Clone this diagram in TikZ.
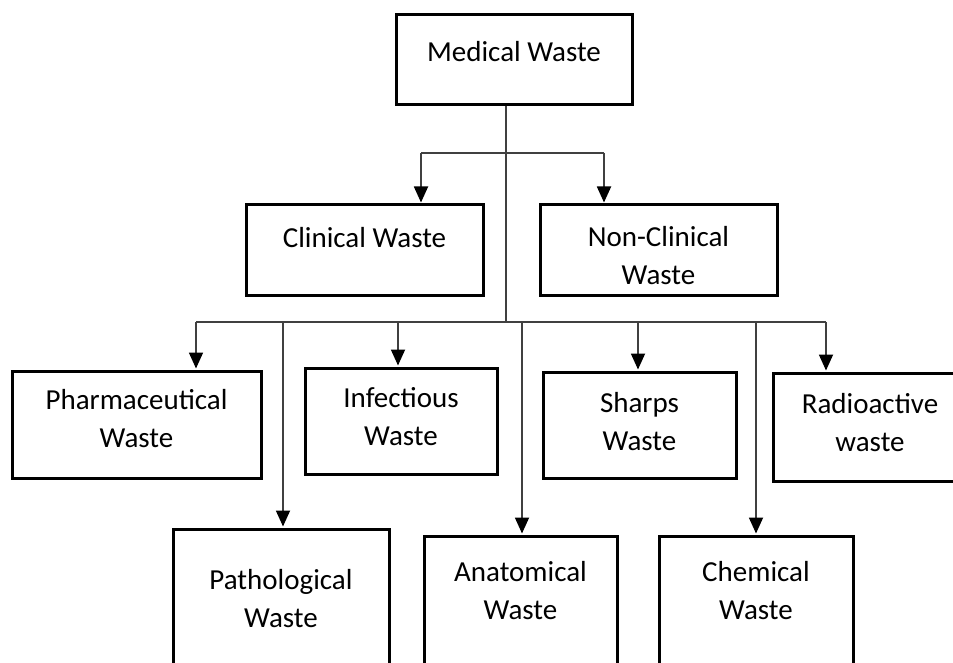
\documentclass[tikz,border=0pt]{standalone}
\usepackage{fontspec}
\setmainfont{Carlito}
\usetikzlibrary{arrows.meta}

\tikzset{
  wbox/.style={draw=black, line width=1.5pt, inner sep=0pt},
  wtxt/.style={align=center, font=\fontsize{14.5}{19}\selectfont},
  wline/.style={draw=black!75, line width=0.9pt},
  warr/.style={wline, -{Triangle[width=7pt,length=8pt,color=black]}, shorten >=0.5pt}
}

\begin{document}
\begin{tikzpicture}[x=0.5pt, y=-0.5pt]
			\useasboundingbox (0,0) rectangle (953,663);
			\clip (0,0) rectangle (953,663);
			
			%% boxes (pixel units, y downwards)
			\node[wbox, minimum width=118pt, minimum height=45pt] (med) at (514,60) {};
			
			\node[wbox, minimum width=118.5pt, minimum height=45.5pt] (cli) at (364.5,250.5) {};
			\node[wbox, minimum width=118.5pt, minimum height=45.5pt] (ncl) at (658.5,250.5) {};
			
			\node[wbox, minimum width=124.5pt, minimum height=53.5pt] (pha) at (136.5,424.5) {};
			\node[wbox, minimum width=96pt, minimum height=53pt] (inf) at (401,421) {};
			\node[wbox, minimum width=96.5pt, minimum height=53pt] (sha) at (639.5,425) {};
			\node[wbox, minimum width=97pt, minimum height=54pt] (rad) at (870,427) {};
			
			\node[wbox, minimum width=108pt, minimum height=90pt] (pat) at (281,619) {};
			\node[wbox, minimum width=96.5pt, minimum height=90pt] (ana) at (520.5,626) {};
			\node[wbox, minimum width=97pt, minimum height=90pt] (che) at (756,626) {};
			
			%% labels
			\node[wtxt] (medt) at (514,52) {Medical Waste};
			\node[wtxt] (clit) at (364.5,238) {Clinical Waste};
			\node[wtxt] (nclt) at (658.5,256) {Non-Clinical\\Waste};
			\node[wtxt] (phat) at (136.5,419) {Pharmaceutical\\Waste};
			\node[wtxt] (inft) at (401,417) {Infectious\\Waste};
			\node[wtxt] (shat) at (639.5,422) {Sharps\\Waste};
			\node[wtxt] (radt) at (870,423) {Radioactive\\waste};
			\node[wtxt] (patt) at (281,599) {Pathological\\Waste};
			\node[wtxt] (anat) at (520.5,591) {Anatomical\\Waste};
			\node[wtxt] (chet) at (756,591) {Chemical\\Waste};
			
			%% trunk
			\coordinate (t1) at (506,153);
			\coordinate (t2) at (506,322);
			\draw[wline] (med.south -| t1) -- (t2);
			
			%% first level
			\coordinate (b1l) at (421,153);
			\coordinate (b1r) at (604,153);
			\draw[wline] (b1l) -- (b1r);
			\draw[warr] (b1l) -- (b1l |- cli.north);
			\draw[warr] (b1r) -- (b1r |- ncl.north);
			
			%% second level
			\coordinate (b2l) at (196,322);
			\coordinate (b2r) at (826,322);
			\draw[wline] (b2l) -- (b2r);
			\foreach \x/\n in {196/pha,283/pat,398/inf,522/ana,638/sha,756/che,826/rad}{
				\coordinate (d\n) at (\x,322);
				\draw[warr] (d\n) -- (d\n |- \n.north);
			}
			
		\end{tikzpicture}
\end{document}
